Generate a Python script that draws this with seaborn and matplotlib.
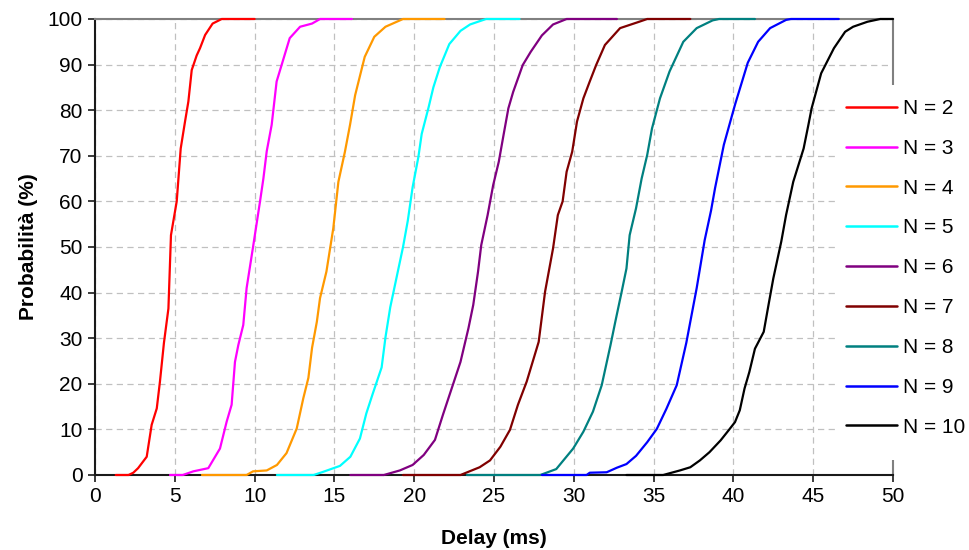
import numpy as np
import pandas as pd
import seaborn as sns
import matplotlib
matplotlib.use("Agg")
import matplotlib.pyplot as plt
from matplotlib.patches import Rectangle
from matplotlib.lines import Line2D

# Cumulative delay distributions, one curve per number of nodes N
labels = ["N = 2", "N = 3", "N = 4", "N = 5", "N = 6", "N = 7", "N = 8", "N = 9", "N = 10"]
colors = ["#FF0000", "#FF00FF", "#FF9900", "#00FFFF", "#800080",
          "#800000", "#008080", "#0000FF", "#000000"]

delay_n2 = [1.3, 2.1, 2.4, 2.7, 3.24, 3.55, 3.87, 4.07, 4.32, 4.6, 4.76, 5.12, 5.37, 5.64,
            5.85, 6.06, 6.37, 6.58, 6.9, 7.37, 7.94, 10.0]
prob_n2 = [0, 0, 0.5, 1.5, 4, 11, 14.6, 20.5, 29, 36.5, 52.6, 60, 71.6, 77.5,
           81.9, 88.8, 92, 93.6, 96.5, 99, 100, 100]

delay_n3 = [4.7, 5.5, 6.16, 7.1, 7.83, 8.25, 8.56, 8.77, 8.98, 9.29, 9.5, 9.92, 10.34, 10.55,
            10.76, 11.07, 11.38, 11.7, 12.2, 12.85, 13.6, 14.1, 16.1]
prob_n3 = [0, 0, 0.8, 1.5, 5.8, 11.7, 15.4, 24.8, 28.5, 32.9, 41, 50.4, 60, 65,
           71, 76.8, 86.3, 90, 95.8, 98.3, 99, 100, 100]

delay_n4 = [6.7, 9.5, 9.9, 10.76, 11.4, 12.0, 12.64, 13.05, 13.37, 13.6, 13.9, 14.1, 14.5,
            14.93, 15.25, 15.66, 15.98, 16.3, 16.9, 17.5, 18.2, 19.3, 21.9]
prob_n4 = [0, 0, 0.8, 1, 2.2, 4.8, 10.2, 16.8, 21.3, 27.9, 33.6, 38.8, 44.6,
           54.1, 64.3, 70.9, 76.8, 83.3, 91.7, 96.1, 98.3, 100, 100]

delay_n5 = [11.4, 13.7, 14.3, 15.35, 16.0, 16.6, 17.0, 17.4, 17.96, 18.2, 18.5, 18.9, 19.3,
            19.6, 19.9, 20.26, 20.47, 20.9, 21.2, 21.6, 22.2, 22.9, 23.5, 24.5, 26.6]
prob_n5 = [0, 0, 0.7, 2, 4, 8, 13.5, 17.8, 23.6, 30.2, 36.8, 43.4, 50,
           55.8, 63.1, 69.7, 74.8, 80.6, 85, 89.4, 94.5, 97.4, 98.8, 100, 100]

delay_n6 = [16.0, 18.1, 19.1, 19.9, 20.6, 21.3, 21.8, 22.35, 22.9, 23.4, 23.7, 24.0, 24.2,
            24.6, 24.95, 25.3, 25.6, 25.9, 26.2, 26.8, 27.3, 28.0, 28.7, 29.55, 32.7]
prob_n6 = [0, 0, 1, 2.2, 4.4, 7.7, 13.2, 19, 24.8, 32.2, 37.3, 44.6, 50.4,
           57, 63.6, 68.7, 74.6, 80.4, 84, 89.9, 92.8, 96.4, 98.8, 100, 100]

delay_n7 = [19.3, 22.9, 24.1, 24.75, 25.4, 26.0, 26.5, 27.05, 27.8, 28.2, 28.7, 29.0, 29.3,
            29.55, 29.9, 30.2, 30.6, 31.0, 31.4, 31.95, 32.9, 34.1, 34.6, 37.3]
prob_n7 = [0, 0, 1.7, 3.2, 6.2, 9.9, 15.4, 20.5, 29.2, 40.2, 49.7, 57, 60,
           66.5, 70.9, 77.5, 82.6, 86.3, 89.9, 94.3, 98, 99.4, 100, 100]

delay_n8 = [23.3, 27.9, 28.9, 29.96, 30.6, 31.2, 31.75, 32.3, 32.6, 33.0, 33.3, 33.5, 33.9,
            34.25, 34.6, 34.9, 35.4, 36.0, 36.86, 37.7, 38.7, 39.1, 41.35]
prob_n8 = [0, 0, 1.3, 5.8, 9.5, 13.9, 19.7, 28.5, 33.6, 40.2, 45.3, 52.6, 58.5,
           65, 70.2, 76, 82.6, 88.5, 95, 98, 99.7, 100, 100]

delay_n9 = [28.0, 30.8, 31.0, 32.06, 32.7, 33.3, 33.9, 34.6, 35.2, 35.8, 36.45, 37.05, 37.7,
            38.2, 38.6, 38.85, 39.4, 40.1, 40.9, 41.55, 42.3, 43.3, 43.6, 46.6]
prob_n9 = [0, 0, 0.5, 0.6, 1.6, 2.4, 4.2, 7.2, 10.1, 14.5, 19.7, 29, 41,
           51.5, 58, 62.9, 72.4, 81.2, 90.4, 95, 98, 99.8, 100, 100]

delay_n10 = [33.3, 35.6, 36.65, 37.3, 37.9, 38.5, 39.2, 39.7, 40.1, 40.4, 40.7, 41.0, 41.35,
             41.9, 42.2, 42.5, 43.0, 43.3, 43.75, 44.4, 44.7, 44.9, 45.5, 46.3, 47.0, 47.5,
             48.4, 49.2, 50.0]
prob_n10 = [0, 0, 1, 1.7, 3.2, 5, 7.6, 9.8, 11.6, 14.2, 19, 22.6, 27.7,
            31.4, 37.3, 43.1, 51.2, 57, 64.3, 71.6, 76.8, 80.4, 88.1, 93.6, 97.2, 98.3,
            99.4, 100, 100]

delays = [delay_n2, delay_n3, delay_n4, delay_n5, delay_n6, delay_n7, delay_n8, delay_n9, delay_n10]
probs = [prob_n2, prob_n3, prob_n4, prob_n5, prob_n6, prob_n7, prob_n8, prob_n9, prob_n10]

x_ticks = [0, 5, 10, 15, 20, 25, 30, 35, 40, 45, 50]
y_ticks = [0, 10, 20, 30, 40, 50, 60, 70, 80, 90, 100]

frames = []
for lab, d, p in zip(labels, delays, probs):
    frames.append(pd.DataFrame({"delay": d, "prob": p, "serie": lab}))
df = pd.concat(frames, ignore_index=True)

sns.set_theme(style="white")
plt.rcParams["font.family"] = ["Liberation Sans", "DejaVu Sans"]
plt.rcParams["text.color"] = "black"
plt.rcParams["axes.labelcolor"] = "black"

W, H = 969, 550
fig = plt.figure(figsize=(W / 100, H / 100), dpi=100)
ax = fig.add_axes([95 / W, 1 - 475 / H, (893 - 95) / W, (475 - 19) / H])

sns.lineplot(data=df, x="delay", y="prob", hue="serie", hue_order=labels,
             palette=colors, sort=False, estimator=None, units="serie",
             linewidth=1.6, ax=ax, legend=False)
for ln in ax.get_lines():
    ln.set_clip_on(False)
    ln.set_zorder(3)
    ln.set_solid_joinstyle("round")

ax.set_xlim(0, 50)
ax.set_ylim(0, 100)
ax.set_xticks(x_ticks)
ax.set_yticks(y_ticks)
ax.set_xticklabels([str(v) for v in x_ticks])
ax.set_yticklabels([str(v) for v in y_ticks])

ax.grid(True, color="#C0C0C0", linestyle=(0, (5, 3.5)), linewidth=0.9)
ax.set_axisbelow(True)

for side in ["left", "bottom"]:
    ax.spines[side].set_color("#1a1a1a")
    ax.spines[side].set_linewidth(1.5)
for side in ["top", "right"]:
    ax.spines[side].set_color("#808080")
    ax.spines[side].set_linewidth(1.5)
    ax.spines[side].set_visible(True)

ax.tick_params(axis="both", which="major", direction="out", length=5, width=1.2,
               color="#1a1a1a", labelsize=15, labelcolor="black", pad=4,
               left=True, bottom=True, top=False, right=False)

ax.set_xlabel("Delay (ms)", fontsize=15, fontweight="bold", labelpad=16, color="black")
ax.set_ylabel("Probabilità (%)", fontsize=15, fontweight="bold", labelpad=7, color="black")

# white panel behind the legend, covering the right spine
fig.patches.append(Rectangle((838 / W, 1 - 460 / H), (W - 838) / W, (460 - 85) / H,
                             transform=fig.transFigure, facecolor="white",
                             edgecolor="none", zorder=2))

handles = [Line2D([], [], color=c, linewidth=1.8) for c in colors]
fig.legend(handles, labels, loc="upper left", bbox_to_anchor=(846 / W, 1 - 99 / H),
           frameon=False, fontsize=15, handlelength=2.45, handletextpad=0.3,
           labelspacing=1.0, borderpad=0, borderaxespad=0)

fig.savefig("out.png", dpi=100)
